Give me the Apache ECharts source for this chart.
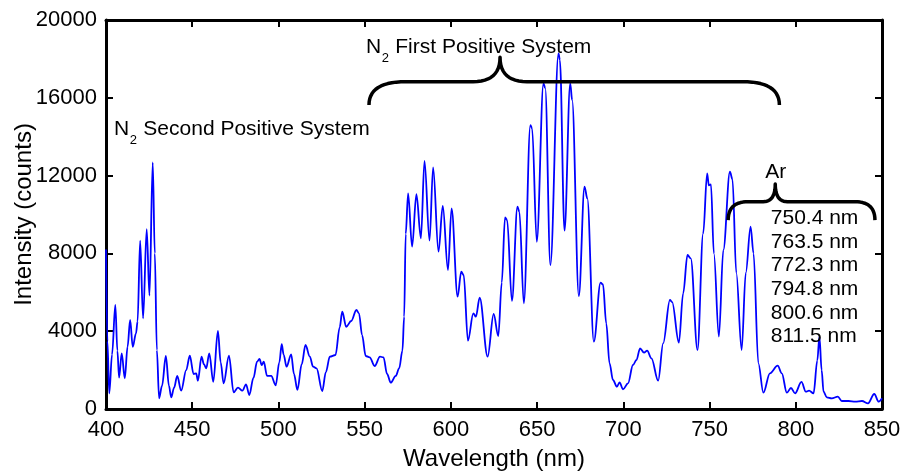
<!DOCTYPE html>
<html>
<head>
<meta charset="utf-8">
<script src="https://cdn.jsdelivr.net/npm/echarts@6/dist/echarts.min.js"></script>
<style>
  html, body { margin: 0; padding: 0; background: #fff; }
  #chart { width: 906px; height: 474px; }
</style>
</head>
<body>
<div id="chart"></div>
<script>
// Emission spectrum: wavelength (nm) and intensity (counts)
const wavelength = [
  400.0, 400.8, 401.9, 403.5, 405.4, 406.6, 407.6, 409.1, 410.9, 412.5,
  414.0, 415.5, 417.4, 418.3, 419.8, 421.5, 423.6, 425.2, 427.1, 428.3,
  429.5, 430.8, 432.5, 434.7, 436.5, 437.8, 439.5, 441.3, 443.6, 446.5,
  448.6, 450.8, 452.3, 453.3, 455.4, 456.8, 458.1, 459.9, 462.2, 464.9,
  466.5, 468.2, 471.3, 474.0, 476.5, 479.1, 481.2, 483.1, 485.5, 487.6,
  489.0, 490.3, 491.5, 493.4, 495.8, 498.4, 500.5, 501.9, 503.0, 504.7,
  507.4, 509.0, 511.0, 513.5, 515.7, 518.2, 520.1, 522.1, 525.4, 527.5,
  529.8, 533.1, 535.5, 537.0, 539.3, 542.2, 545.2, 546.7, 548.5, 550.6,
  552.9, 555.8, 558.9, 560.9, 563.0, 565.1, 568.0, 570.0, 571.9, 572.9,
  573.8, 575.2, 577.5, 580.0, 582.6, 584.7, 587.6, 589.7, 592.8, 595.3,
  598.3, 600.4, 603.9, 606.0, 607.4, 609.9, 613.0, 614.5, 616.7, 621.3,
  624.8, 627.5, 629.5, 631.4, 632.6, 635.4, 638.6, 639.7, 642.3, 646.1,
  647.1, 649.8, 653.7, 654.7, 657.7, 662.4, 663.2, 665.9, 669.2, 670.3,
  674.2, 677.5, 679.1, 682.9, 686.8, 688.2, 690.1, 692.0, 694.0, 696.3,
  697.8, 699.8, 702.7, 705.6, 707.6, 709.7, 712.0, 713.8, 716.3, 720.2,
  723.1, 727.0, 728.3, 732.2, 734.7, 737.2, 739.1, 743.0, 746.3, 748.6,
  749.6, 750.8, 752.5, 755.4, 758.0, 761.8, 763.3, 765.5, 768.6, 771.0,
  773.8, 775.5, 778.3, 781.2, 785.0, 789.5, 791.9, 794.8, 797.2, 799.6,
  803.3, 805.8, 807.7, 810.3, 812.5, 813.7, 815.0, 816.1, 818.0, 820.9,
  824.4, 826.7, 830.6, 834.5, 838.4, 841.9, 845.5, 848.1, 850.0
];
const counts = [
  8200, 3500, 800, 2800, 5350, 3000, 1610, 2860, 1580, 3200,
  4575, 3200, 3890, 4500, 8650, 4660, 9250, 5830, 12680, 8000,
  3030, 550, 1200, 2725, 1200, 600, 1100, 1700, 940, 2000,
  2740, 1800, 1835, 1455, 2690, 2300, 2090, 2860, 1400, 4010,
  2400, 1320, 2740, 860, 1100, 940, 1270, 720, 1600, 2430,
  2570, 2260, 2430, 1700, 1700, 1220, 2400, 3330, 2800, 2175,
  2810, 1800, 980, 2300, 3290, 2690, 2175, 2090, 925, 1900,
  2690, 2776, 4200, 5000, 4230, 4524, 5090, 4920, 3800, 2725,
  2656, 2210, 2690, 2656, 1800, 1353, 1700, 2090, 3000, 4745,
  9000, 11090, 8345, 11040, 8775, 12750, 8655, 12424, 8087, 10436,
  7146, 10318, 5775, 7060, 6889, 3511, 4920, 4745, 5723, 2690,
  4884, 3753, 6500, 9850, 9716, 5560, 10400, 10145, 5432, 14600,
  14430, 8600, 16744, 16500, 7403, 18287, 17940, 9168, 16744, 15886,
  5809, 11430, 10833, 3460, 6493, 6400, 4400, 2350, 1490, 1147,
  1372, 1013, 1320, 2262, 2520, 3120, 2894, 2997, 2605, 1455,
  3378, 5604, 5500, 3409, 5948, 7917, 7745, 3033, 9030, 12117,
  11500, 11550, 8000, 3720, 8174, 12200, 11800, 7000, 3033, 7000,
  9372, 8000, 2350, 840, 1835, 2227, 1835, 840, 1080, 805,
  1390, 890, 940, 805, 2500, 3717, 2000, 890, 600, 550,
  632, 411, 411, 375, 411, 290, 771, 375, 550
];

// Axis ranges and tick spacing
const xRange = [400, 850];
const xStep = 50;
const yRange = [0, 20000];
const yStep = 4000;

// Annotation texts
const firstSystem = ['N', '2', ' First Positive System'];
const secondSystem = ['N', '2', ' Second Positive System'];
const argonTitle = 'Ar';
const argonLines = ['750.4 nm', '763.5 nm', '772.3 nm', '794.8 nm', '800.6 nm', '811.5 nm'];

const FONT = '"Liberation Sans", Arial, Helvetica, sans-serif';
const chart = echarts.init(document.getElementById('chart'), null, { renderer: 'canvas' });

const axisLineStyle = { show: true, onZero: false, lineStyle: { color: '#000', width: 3 } };
const tickStyle = { show: true, inside: true, length: 7, lineStyle: { color: '#000', width: 2 } };
const plainNumber = v => String(v);

chart.setOption({
  animation: false,
  backgroundColor: '#fff',
  grid: { left: 106, right: 24, top: 20, bottom: 65, containLabel: false, outerBoundsMode: 'none' },
  xAxis: [
    {
      type: 'value', min: xRange[0], max: xRange[1], interval: xStep, position: 'bottom',
      axisLine: axisLineStyle, axisTick: tickStyle, splitLine: { show: false },
      axisLabel: { fontSize: 22, color: '#000', margin: 10, fontFamily: FONT, formatter: plainNumber },
      name: 'Wavelength (nm)', nameLocation: 'middle', nameGap: 38, nameMoveOverlap: false,
      nameTextStyle: { fontSize: 24, color: '#000', fontFamily: FONT }
    },
    {
      type: 'value', min: xRange[0], max: xRange[1], interval: xStep, position: 'top',
      axisLine: axisLineStyle, axisTick: tickStyle, splitLine: { show: false },
      axisLabel: { show: false }
    }
  ],
  yAxis: [
    {
      type: 'value', min: yRange[0], max: yRange[1], interval: yStep, position: 'left',
      axisLine: axisLineStyle, axisTick: tickStyle, splitLine: { show: false },
      axisLabel: { fontSize: 22, color: '#000', margin: 9, fontFamily: FONT, formatter: plainNumber },
      name: 'Intensity (counts)', nameLocation: 'middle', nameGap: 70, nameMoveOverlap: false,
      nameTextStyle: { fontSize: 24, color: '#000', fontFamily: FONT }
    },
    {
      type: 'value', min: yRange[0], max: yRange[1], interval: yStep, position: 'right',
      axisLine: axisLineStyle, axisTick: tickStyle, splitLine: { show: false },
      axisLabel: { show: false }
    }
  ],
  series: [{
    type: 'line',
    xAxisIndex: 0, yAxisIndex: 0,
    data: wavelength.map((w, i) => [w, counts[i]]),
    showSymbol: false,
    smooth: 0.35,
    smoothMonotone: 'x',
    lineStyle: { color: '#0000ff', width: 1.8 },
    z: 1
  }]
});

// Annotation helpers (anchors given in data units, converted to pixels)
const toPx = (x, y) => chart.convertToPixel({ xAxisIndex: 0, yAxisIndex: 0 }, [x, y]);
const measureCtx = document.createElement('canvas').getContext('2d');
function textWidth(str, size) {
  measureCtx.font = size + 'px ' + FONT;
  return measureCtx.measureText(str).width;
}

// sample a quadratic bezier into points (excluding the start point)
function quad(p0, c, p1, n) {
  const out = [];
  for (let i = 1; i <= n; i++) {
    const t = i / n, u = 1 - t;
    out.push([u * u * p0[0] + 2 * u * t * c[0] + t * t * p1[0],
              u * u * p0[1] + 2 * u * t * c[1] + t * t * p1[1]]);
  }
  return out;
}

// curly brace opening downward, with a peak pointing up at xTip
function bracePoints(xL, xTip, xR, yEnd, yBar, yTip, rx, w) {
  const a = toPx(xL, yEnd), t = toPx(xTip, yTip), c = toPx(xR, yEnd);
  const yb = toPx(xTip, yBar)[1];
  let pts = [a];
  pts = pts.concat(quad(a, [a[0], yb], [a[0] + rx, yb], 14));
  pts.push([t[0] - w, yb]);
  pts = pts.concat(quad([t[0] - w, yb], [t[0], yb], t, 12));
  pts = pts.concat(quad(t, [t[0], yb], [t[0] + w, yb], 12));
  pts.push([c[0] - rx, yb]);
  pts = pts.concat(quad([c[0] - rx, yb], [c[0], yb], c, 14));
  return pts;
}

function subscriptLabel(x, y, parts, size) {
  const p = toPx(x, y);
  const subSize = Math.round(size * 0.62);
  const w0 = textWidth(parts[0], size);
  const w1 = textWidth(parts[1], subSize);
  const font = size + 'px ' + FONT;
  return [
    { type: 'text', x: p[0], y: p[1],
      style: { text: parts[0], fill: '#000', font: font, verticalAlign: 'middle', align: 'left' } },
    { type: 'text', x: p[0] + w0 + 0.5, y: p[1] + size * 0.53,
      style: { text: parts[1], fill: '#000', font: subSize + 'px ' + FONT, verticalAlign: 'middle', align: 'left' } },
    { type: 'text', x: p[0] + w0 + w1 + 1, y: p[1],
      style: { text: parts[2], fill: '#000', font: font, verticalAlign: 'middle', align: 'left' } }
  ];
}

function drawAnnotations() {
  const fs = 21;
  const argAnchor = toPx(785.5, 9819);
  const arPos = toPx(788.4, 12200);
  const braceStyle = { stroke: '#000', lineWidth: 3.5, fill: null, lineJoin: 'round', lineCap: 'butt' };
  const elements = [
    { type: 'polyline', shape: { points: bracePoints(552.5, 628.5, 790.5, 15630, 16830, 18080, 37, 27) },
      style: braceStyle },
    { type: 'polyline', shape: { points: bracePoints(760.8, 788.1, 845.9, 9713, 10657, 11567, 20, 12) },
      style: braceStyle },
    ...subscriptLabel(550.8, 18620, firstSystem, fs),
    ...subscriptLabel(404.7, 14395, secondSystem, fs),
    { type: 'text', x: arPos[0], y: arPos[1],
      style: { text: argonTitle, fill: '#000', font: fs + 'px ' + FONT, align: 'center', verticalAlign: 'middle' } },
    { type: 'text', x: argAnchor[0], y: argAnchor[1] - 11.85,
      style: { text: argonLines.join('\n'), fill: '#000', font: fs + 'px ' + FONT,
               align: 'left', verticalAlign: 'top', lineHeight: 23.7 } }
  ];
  chart.setOption({ graphic: elements.map(e => Object.assign({ z: 10 }, e)) });
}
drawAnnotations();
</script>
</body>
</html>
